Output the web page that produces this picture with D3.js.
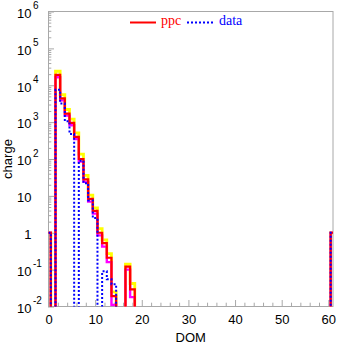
<!DOCTYPE html>
<html><head><meta charset="utf-8">
<script src="https://cdn.jsdelivr.net/npm/d3@7"></script>
<style>body{margin:0;background:#fff}svg{display:block}</style>
</head><body>
<script>
// DOM bins (bin centre; each bin is 1 wide)
const bins    = [0, 2, 3, 4, 5, 6, 7, 8, 9, 10, 11, 12, 13, 14, 17, 18, 61];
// ppc (red)
const ppc     = [1, 1.9e4, 4.4e3, 1.7e3, 950, 400, 100, 28, 8.3, 3.9, 1.0, 0.52, 0.21, 0.019, 0.12, 0.029, 1];
// ppc upper band (yellow)
const ppcHigh = [1, 2.4e4, 5.6e3, 2.2e3, 1.2e3, 510, 135, 36, 10.5, 4.7, 1.3, 0.64, 0.27, 0.025, 0.14, 0.042, 1];
// ppc lower band (magenta)
const ppcLow  = [1, 1.65e4, 3.9e3, 1.5e3, 820, 350, 85, 24, 7.0, 3.3, 0.85, 0.42, 0.16, 0.011, 0.10, 0.018, 1];
// data (blue dotted)
const dataV   = [1, 7.5e3, 3.2e3, 1.05e3, 480, 0, 90, 22, 7.5, 2.5, 0, 0.09, 0.055, 0.04, 0, 0, 1];

const xMajor = [0, 10, 20, 30, 40, 50, 60];
const yMajor = [1e-2, 1e-1, 1, 10, 1e2, 1e3, 1e4, 1e5, 1e6];
const yBase  = ["10", "10", "1", "10", "10", "10", "10", "10", "10"];
const yExp   = ["-2", "-1", "", "", "2", "3", "4", "5", "6"];

const W = 337, H = 344;
const L = 48.5, R = 333, T = 11.5, B = 306.5;
const svg = d3.select("body").append("svg").attr("width", W).attr("height", H);
const x = d3.scaleLinear().domain([0, 61]).range([L, R]);
const y = d3.scaleLog().domain([1e-2, 1e6]).range([B, T]);

svg.append("defs").append("clipPath").attr("id", "clip")
  .append("rect").attr("x", L).attr("y", T).attr("width", R - L).attr("height", B - T);

const gray = "#a8a8a8";
const sans = "'Liberation Sans', Arial, sans-serif";

// frame
svg.append("rect").attr("x", L).attr("y", T).attr("width", R - L).attr("height", B - T)
  .attr("fill", "none").attr("stroke", gray).attr("stroke-width", 1);

// x axis ticks (inward)
const xMinor = d3.range(0, 61, 2).filter(v => v % 10 !== 0);
function styleAxis(g){ g.select(".domain").remove(); g.selectAll("line").attr("stroke", gray); }
svg.append("g").attr("transform", `translate(0,${B - 0.5})`)
  .call(d3.axisBottom(x).tickValues(xMinor).tickSize(-3.3).tickFormat(""))
  .call(styleAxis);
svg.append("g").attr("transform", `translate(0,${B - 0.5})`)
  .call(d3.axisBottom(x).tickValues(xMajor).tickSize(-6).tickPadding(8.8).tickFormat(d3.format("d")))
  .call(styleAxis)
  .call(g => g.selectAll("text").attr("fill", "#000").attr("font-family", sans).attr("font-size", 13));

// y axis ticks (inward)
const yMinor = [];
for (let k = -2; k < 6; k++) for (let m = 2; m <= 9; m++) yMinor.push(m * Math.pow(10, k));
svg.append("g").attr("transform", `translate(${L - 0.5},0)`)
  .call(d3.axisLeft(y).tickValues(yMinor).tickSize(-3.3).tickFormat(""))
  .call(styleAxis);
svg.append("g").attr("transform", `translate(${L - 0.5},0)`)
  .call(d3.axisLeft(y).tickValues(yMajor).tickSize(-6).tickFormat(""))
  .call(styleAxis);

// y labels with superscripts
const yl = svg.append("g").attr("font-family", sans).attr("fill", "#000");
yMajor.forEach((v, i) => {
  yl.append("text").attr("x", 31.5).attr("y", y(v) + 6.3).attr("text-anchor", "end")
    .attr("font-size", 13).text(yBase[i]);
  if (yExp[i]) yl.append("text").attr("x", 33).attr("y", y(v) - 2.5)
    .attr("font-size", 10).text(yExp[i]);
});

// axis titles
svg.append("text").attr("x", (L + R) / 2).attr("y", 341.5).attr("text-anchor", "middle")
  .attr("font-family", sans).attr("font-size", 13).text("DOM");
svg.append("text").attr("transform", "translate(12,159) rotate(-90)").attr("text-anchor", "middle")
  .attr("font-family", sans).attr("font-size", 13).text("charge");

// histogram step outlines
const yZero = B + 12;
function stepPath(vals) {
  const pts = [];
  let prevEnd = null;
  bins.forEach((c, i) => {
    const s = c - 0.5, e = c + 0.5, v = vals[i];
    const yy = v > 0 ? y(v) : yZero;
    if (prevEnd === null) pts.push([x(s), yZero]);
    else if (Math.abs(prevEnd - s) > 1e-9) { pts.push([x(prevEnd), yZero]); pts.push([x(s), yZero]); }
    pts.push([x(s), yy]); pts.push([x(e), yy]);
    prevEnd = e;
  });
  pts.push([x(prevEnd), yZero]);
  return d3.line()(pts);
}
const plot = svg.append("g").attr("clip-path", "url(#clip)");
const series = [
  {v: ppcHigh, c: "#ffff00", w: 2.8, d: null},
  {v: ppcLow,  c: "#ff00ff", w: 2.4, d: null},
  {v: ppc,     c: "#ff0000", w: 2.2, d: null},
  {v: dataV,   c: "#0000ff", w: 2,   d: "2,2"}
];
series.forEach(s => {
  plot.append("path").attr("d", stepPath(s.v)).attr("fill", "none")
    .attr("stroke", s.c).attr("stroke-width", s.w).attr("stroke-dasharray", s.d)
    .attr("stroke-linejoin", "miter");
});

// legend
const serif = "'Liberation Serif', 'Times New Roman', serif";
svg.append("line").attr("x1", 130).attr("x2", 156).attr("y1", 22.5).attr("y2", 22.5)
  .attr("stroke", "#ff0000").attr("stroke-width", 2);
svg.append("text").attr("x", 161).attr("y", 25).attr("font-family", serif).attr("font-size", 14)
  .attr("fill", "#ff0000").text("ppc");
svg.append("line").attr("x1", 187).attr("x2", 213).attr("y1", 22.5).attr("y2", 22.5)
  .attr("stroke", "#0000ff").attr("stroke-width", 2).attr("stroke-dasharray", "2,2");
svg.append("text").attr("x", 219).attr("y", 25).attr("font-family", serif).attr("font-size", 14)
  .attr("fill", "#0000ff").text("data");
</script>
</body></html>
